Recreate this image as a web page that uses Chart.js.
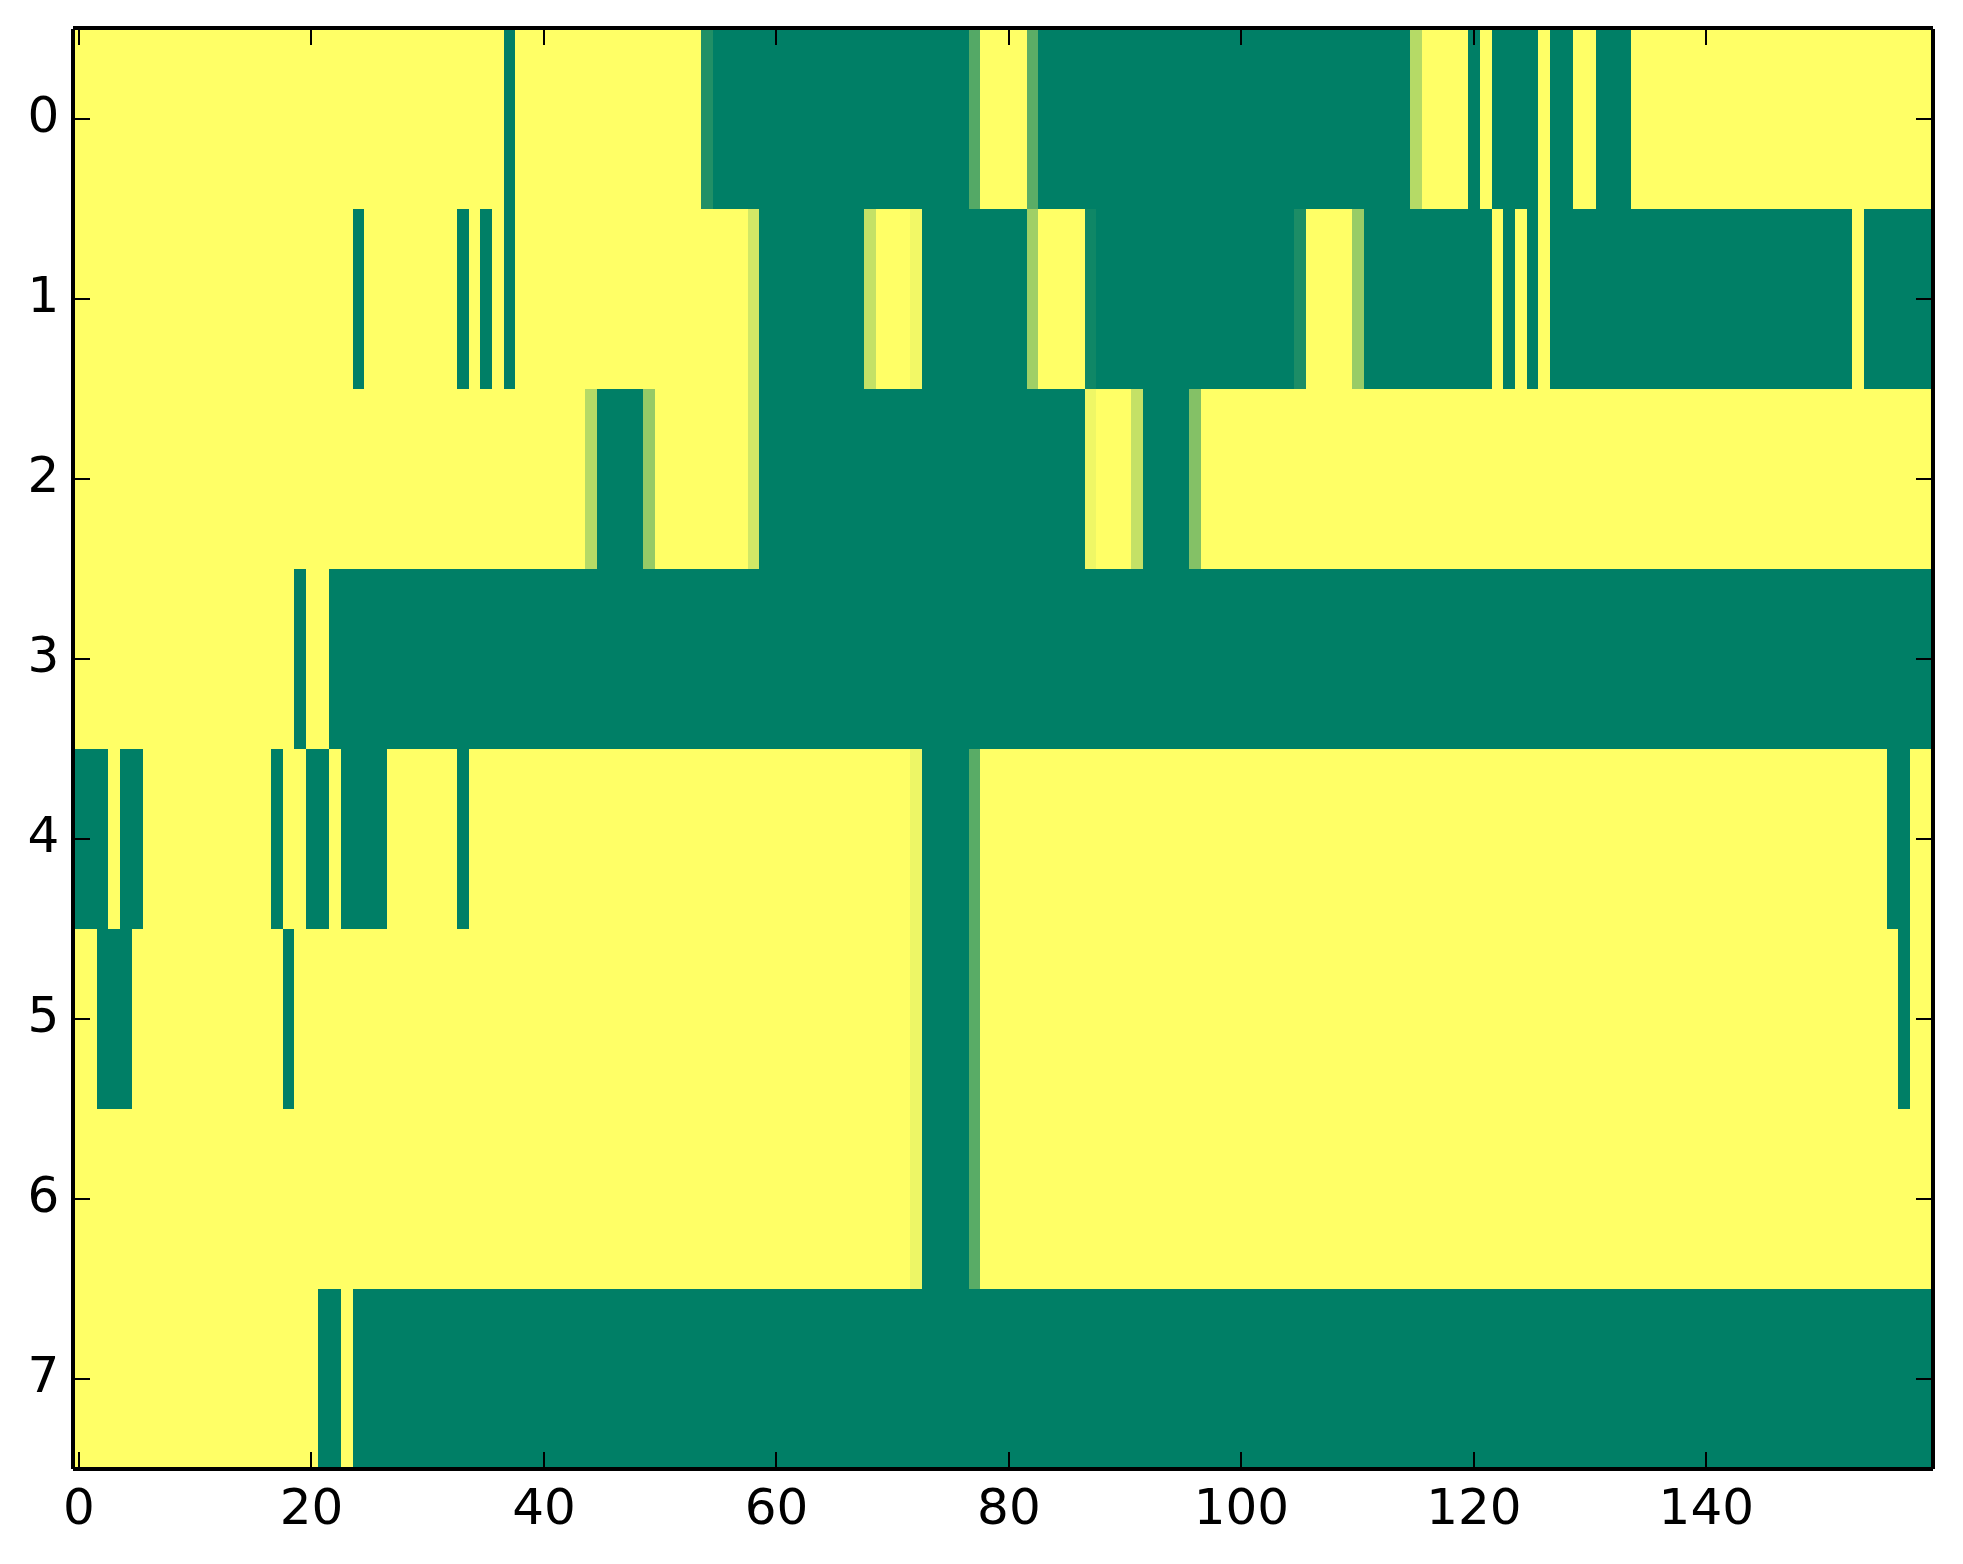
<!DOCTYPE html>
<html>
<head>
<meta charset="utf-8">
<title>Heatmap</title>
<script src="https://cdn.jsdelivr.net/npm/chart.js@4"></script>
<style>
    html, body { margin: 0; padding: 0; background: #fff; }
    canvas { display: block; }
</style>
</head>
<body>
<canvas id="chart" width="1963" height="1564"></canvas>
<script>
const rowLabels = ["0", "1", "2", "3", "4", "5", "6", "7"];
const xTickValues = [0, 20, 40, 60, 80, 100, 120, 140];

// each row is a list of [value, number of columns], left to right
const row0 = [[1,37],[0,1],[1,16],[0.13,1],[0,22],[0.33,1],[1,4],[0.36,1],[0,32],[0.71,1],[1,4],[0,1],[1,1],[0,4],[1,1],[0,2],[1,2],[0,3],[1,26]];
const row1 = [[1,24],[0,1],[1,8],[0,1],[1,1],[0,1],[1,1],[0,1],[1,20],[0.82,1],[0,9],[0.77,1],[1,3],[0.95,1],[0,9],[0.63,1],[1,4],[0.06,1],[0,17],[0.11,1],[1,4],[0.6,1],[0,11],[1,1],[0,1],[1,1],[0,1],[1,1],[0,26],[1,1],[0,6]];
const row2 = [[1,44],[0.71,1],[0,4],[0.59,1],[1,8],[0.82,1],[0,28],[0.94,1],[1,3],[0.77,1],[0,4],[0.52,1],[1,63]];
const row3 = [[1,19],[0,1],[1,2],[0,138]];
const row4 = [[0,3],[1,1],[0,2],[1,11],[0,1],[1,2],[0,2],[1,1],[0,4],[1,6],[0,1],[1,38],[0.93,1],[0,4],[0.35,1],[1,78],[0,2],[1,2]];
const row5 = [[1,2],[0,3],[1,13],[0,1],[1,53],[0.93,1],[0,4],[0.35,1],[1,79],[0,1],[1,2]];
const row6 = [[1,72],[0.93,1],[0,4],[0.35,1],[1,82]];
const row7 = [[1,21],[0,2],[1,1],[0,136]];

const rows = [row0, row1, row2, row3, row4, row5, row6, row7];

// matplotlib "summer" colormap
function summer(v) {
    return `rgb(${Math.floor(v * 255)}, ${Math.floor((0.5 + v / 2) * 255)}, 102)`;
}

const datasets = rows.map((runs, i) => {
    const data = [];
    const colors = [];
    let col = 0;
    runs.forEach(([value, count]) => {
        data.push({ x: [col - 0.5, col + count - 0.5], y: rowLabels[i] });
        colors.push(summer(value));
        col += count;
    });
    return {
        data: data,
        backgroundColor: colors,
        borderWidth: 0,
        inflateAmount: 0,
        grouped: false,
        barPercentage: 1,
        categoryPercentage: 1,
    };
});

// the picture has hard pixel edges, so snap the bars to whole pixels
const snapBars = {
    id: "snapBars",
    afterDatasetsUpdate(chart) {
        chart.getSortedVisibleDatasetMetas().forEach((meta) => {
            meta.data.forEach((bar) => {
                bar.x = Math.round(bar.x + 0.35);
                bar.base = Math.round(bar.base + 0.35);
            });
        });
    },
};

// inward ticks on all four sides, then the frame (butt-ended spines, as matplotlib draws them)
const frame = {
    id: "frame",
    afterDatasetsDraw(chart) {
        const { ctx, chartArea: area, scales } = chart;
        const tickLen = 17;
        const left = Math.round(area.left);
        const right = Math.round(area.right);
        const top = Math.round(area.top) - 1;
        const bottom = Math.round(area.bottom);
        ctx.save();
        ctx.strokeStyle = "#000";
        ctx.lineWidth = 2;
        ctx.beginPath();
        xTickValues.forEach((v) => {
            const px = Math.round(scales.x.getPixelForValue(v));
            ctx.moveTo(px, top);
            ctx.lineTo(px, top + tickLen);
            ctx.moveTo(px, bottom);
            ctx.lineTo(px, bottom - tickLen);
        });
        rowLabels.forEach((label, i) => {
            const py = Math.round(scales.y.getPixelForValue(i));
            ctx.moveTo(left, py);
            ctx.lineTo(left + tickLen, py);
            ctx.moveTo(right, py);
            ctx.lineTo(right - tickLen, py);
        });
        ctx.stroke();
        ctx.lineWidth = 4;
        ctx.beginPath();
        ctx.moveTo(left, top);
        ctx.lineTo(right, top);
        ctx.moveTo(left, bottom);
        ctx.lineTo(right, bottom);
        ctx.moveTo(left, top + 1);
        ctx.lineTo(left, bottom);
        ctx.moveTo(right, top + 1);
        ctx.lineTo(right, bottom);
        ctx.stroke();
        ctx.restore();
    },
};

const tickFont = { family: "'DejaVu Sans'", size: 50 };

new Chart(document.getElementById("chart"), {
    type: "bar",
    data: { labels: rowLabels, datasets: datasets },
    plugins: [snapBars, frame],
    options: {
        indexAxis: "y",
        responsive: false,
        animation: false,
        devicePixelRatio: 1,
        layout: { autoPadding: false, padding: { left: 0, top: 29, right: 30, bottom: 0 } },
        plugins: {
            legend: { display: false },
            tooltip: { enabled: false },
        },
        scales: {
            x: {
                type: "linear",
                min: -0.5,
                max: 159.5,
                grid: { display: false },
                border: { display: false },
                afterBuildTicks(scale) {
                    scale.ticks = xTickValues.map((v) => ({ value: v }));
                },
                afterFit(scale) {
                    scale.height = 95;
                    scale.paddingLeft = 0;
                    scale.paddingRight = 0;
                },
                ticks: {
                    autoSkip: false,
                    maxRotation: 0,
                    padding: 4,
                    color: "#000",
                    font: tickFont,
                    callback: (v) => String(v),
                },
            },
            y: {
                grid: { display: false },
                border: { display: false },
                afterFit(scale) {
                    scale.width = 73.2;
                    scale.paddingTop = 0;
                    scale.paddingBottom = 0;
                },
                ticks: {
                    padding: 6,
                    color: "#000",
                    font: tickFont,
                },
            },
        },
    },
});
</script>
</body>
</html>
